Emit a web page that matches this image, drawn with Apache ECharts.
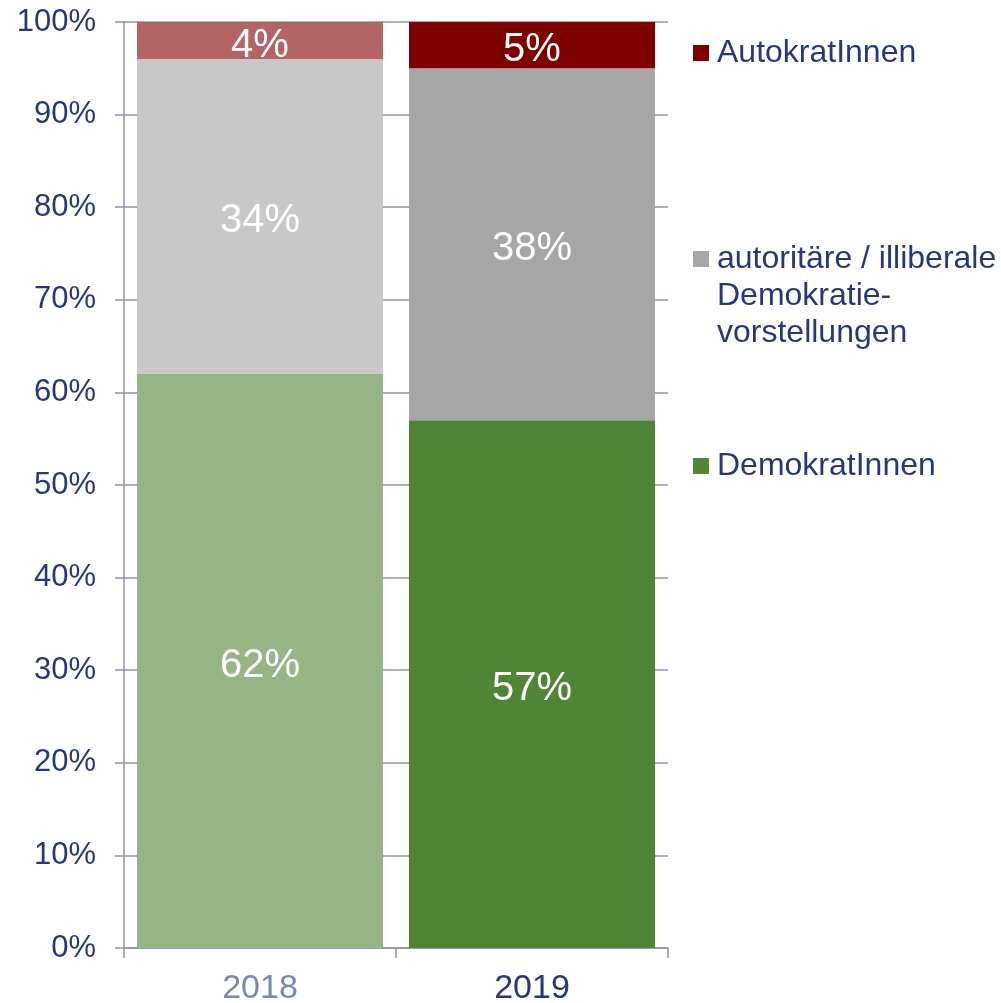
<!DOCTYPE html>
<html>
<head>
<meta charset="utf-8">
<script src="https://cdn.jsdelivr.net/npm/echarts@6/dist/echarts.min.js"></script>
<style>
html,body{margin:0;padding:0;background:#fff;}
#c{width:1001px;height:1003px;}
</style>
</head>
<body>
<div id="c"></div>
<script>
var categories = ['2018', '2019'];
var demokraten = [62, 57];
var autoritaer = [34, 38];
var autokraten = [4, 5];
var seriesNames = ['DemokratInnen', 'autoritäre / illiberale\nDemokratie-\nvorstellungen', 'AutokratInnen'];
var colors2019 = ['#4F8535', '#A6A6A6', '#800000'];
var colors2018 = ['#95B684', '#C8C8C8', '#B46464'];
var catLabelColors = ['#7A88AE', '#27377A'];

var FONT = 'Liberation Sans, Arial, sans-serif';
var NAVY = '#27377A';
var GRID = '#8E93AB';

function buildData(vals, si) {
  return vals.map(function (v, i) {
    return { value: v, itemStyle: { color: i === 0 ? colors2018[si] : colors2019[si] } };
  });
}
var allVals = [demokraten, autoritaer, autokraten];
var series = allVals.map(function (vals, si) {
  return {
    name: seriesNames[si],
    type: 'bar',
    stack: 'total',
    barWidth: 246,
    itemStyle: { color: colors2019[si] },
    label: {
      show: true,
      position: 'inside',
      offset: [0, 5],
      formatter: '{c}%',
      color: '#fff',
      fontSize: 40,
      fontFamily: FONT
    },
    data: buildData(vals, si)
  };
});

// icon: 16x16 square at top-left of a box, so the text sits 8px right of it
var ICON_ONE = 'path://M0,0H16V16H0Z M18.99,16L19,16L19,15.99Z';
var ICON_MULTI = 'path://M0,0H16V16H0Z M18.99,90L19,90L19,89.99Z';

function legend(name, top, icon, h) {
  return {
    orient: 'vertical',
    left: 693,
    top: top,
    padding: 0,
    itemWidth: 19,
    itemHeight: h,
    itemGap: 0,
    icon: icon,
    itemStyle: { borderWidth: 0 },
    selectedMode: false,
    data: [name],
    textStyle: { color: NAVY, fontSize: 32, fontFamily: FONT, lineHeight: 37 }
  };
}

var chart = echarts.init(document.getElementById('c'));
chart.setOption({
  animation: false,
  backgroundColor: '#fff',
  grid: { left: 124, right: 333, top: 22, bottom: 55, containLabel: false, outerBoundsMode: 'none' },
  legend: [
    legend(seriesNames[2], 34.5, ICON_ONE, 16),
    legend(seriesNames[1], 240.5, ICON_MULTI, 90),
    legend(seriesNames[0], 447.5, ICON_ONE, 16)
  ],
  xAxis: {
    type: 'category',
    data: categories.map(function (c, i) {
      return { value: c, textStyle: { color: catLabelColors[i] } };
    }),
    axisLine: { show: true, lineStyle: { color: GRID, width: 1.5 } },
    axisTick: { show: true, length: 10, lineStyle: { color: GRID, width: 1.5 } },
    axisLabel: { fontSize: 34, fontFamily: FONT, margin: 24 }
  },
  yAxis: {
    type: 'value',
    min: 0,
    max: 100,
    interval: 10,
    axisLine: { show: true, lineStyle: { color: GRID, width: 1.5 } },
    axisTick: { show: true, length: 9, lineStyle: { color: GRID, width: 1.5 } },
    splitLine: { show: true, lineStyle: { color: GRID, width: 1.5 } },
    axisLabel: { formatter: '{value}%', fontSize: 31, fontFamily: FONT, color: NAVY, margin: 28 }
  },
  series: series
});
</script>
</body>
</html>
